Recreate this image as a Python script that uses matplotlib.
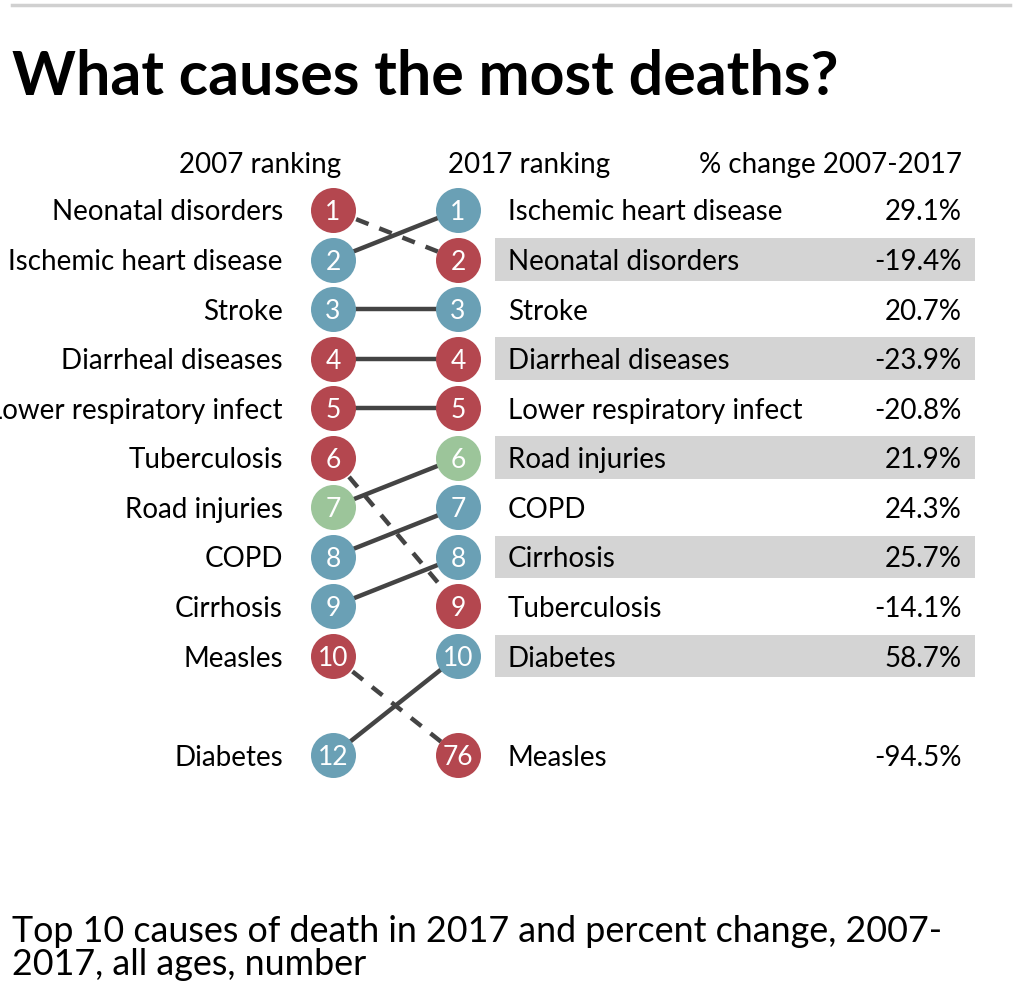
import matplotlib
matplotlib.use("Agg")
import matplotlib.pyplot as plt

plt.rcParams['font.family'] = ['Lato', 'DejaVu Sans']

# 2007 side
causes_2007 = ["Neonatal disorders", "Ischemic heart disease", "Stroke", "Diarrheal diseases",
               "Lower respiratory infect", "Tuberculosis", "Road injuries", "COPD",
               "Cirrhosis", "Measles", "Diabetes"]
rank_2007 = [1, 2, 3, 4, 5, 6, 7, 8, 9, 10, 12]

# 2017 side
causes_2017 = ["Ischemic heart disease", "Neonatal disorders", "Stroke", "Diarrheal diseases",
               "Lower respiratory infect", "Road injuries", "COPD", "Cirrhosis",
               "Tuberculosis", "Diabetes", "Measles"]
rank_2017 = [1, 2, 3, 4, 5, 6, 7, 8, 9, 10, 76]
pct_change = [29.1, -19.4, 20.7, -23.9, -20.8, 21.9, 24.3, 25.7, -14.1, 58.7, -94.5]

# cause group: communicable (red), non-communicable (blue), injuries (green)
groups = {"Neonatal disorders": "comm", "Ischemic heart disease": "ncd", "Stroke": "ncd",
          "Diarrheal diseases": "comm", "Lower respiratory infect": "comm",
          "Tuberculosis": "comm", "Road injuries": "inj", "COPD": "ncd",
          "Cirrhosis": "ncd", "Measles": "comm", "Diabetes": "ncd"}
colors = {"comm": "#B4474F", "ncd": "#6AA0B5", "inj": "#9CC59A"}

LBL = 20


def row(rank):
    # ranks outside the top 10 go below a blank row
    return rank if rank <= 10 else 12


fig = plt.figure(figsize=(10.24, 10.02), dpi=100)
ax = fig.add_axes([0, 0, 1, 1])
ax.set_xlim(-2.664, 5.528)
ax.set_ylim(16.98, -3.237)
ax.axis('off')

# top rule, title, subtitle
fig.add_artist(plt.Line2D([12 / 1024, 1010 / 1024], [0.995, 0.995], color="#d0d0d0", lw=2.5))
fig.text(12 / 1024, 1 - 77 / 1002, "What causes the most deaths?", fontsize=43.8,
         fontweight='bold', va='center', ha='left')
fig.text(12 / 1024, 1 - 948 / 1002,
         "Top 10 causes of death in 2017 and percent change, 2007-\n2017, all ages, number",
         fontsize=25.8, va='center', ha='left', linespacing=1.0)

# headers
ax.text(-0.58, 0.05, "2007 ranking", ha='center', va='center_baseline', fontsize=20)
ax.text(1.57, 0.05, "2017 ranking", ha='center', va='center_baseline', fontsize=20)
ax.text(5.03, 0.05, "% change 2007-2017", ha='right', va='center_baseline', fontsize=20)

# shaded bands on alternating rows of the right table
for i, r in enumerate(rank_2017):
    if r <= 10 and r % 2 == 0:
        ax.add_patch(plt.Rectangle((1.296, row(r) - 0.43), 3.84, 0.86,
                                   color="#d4d4d4", lw=0, zorder=0))

# connecting lines
for name, r07 in zip(causes_2007, rank_2007):
    r17 = rank_2017[causes_2017.index(name)]
    style = '-' if r17 <= r07 else (0, (3, 2.6))
    ax.plot([0, 1], [row(r07), row(r17)], color="#444444", lw=3.2, ls=style,
            solid_capstyle='butt', zorder=1)

# circles and labels
for name, r in zip(causes_2007, rank_2007):
    ax.scatter(0, row(r), s=1050, color=colors[groups[name]], lw=0, zorder=2)
    ax.text(0, row(r), str(r), color='white', ha='center', va='center_baseline', fontsize=19, zorder=3)
    ax.text(-0.4, row(r), name, ha='right', va='center_baseline', fontsize=LBL)

for name, r, p in zip(causes_2017, rank_2017, pct_change):
    ax.scatter(1, row(r), s=1050, color=colors[groups[name]], lw=0, zorder=2)
    ax.text(1, row(r), str(r), color='white', ha='center', va='center_baseline', fontsize=19, zorder=3)
    ax.text(1.4, row(r), name, ha='left', va='center_baseline', fontsize=LBL)
    ax.text(5.03, row(r), f"{p:.1f}%", ha='right', va='center_baseline', fontsize=LBL)

fig.savefig("out.png", dpi=100)
